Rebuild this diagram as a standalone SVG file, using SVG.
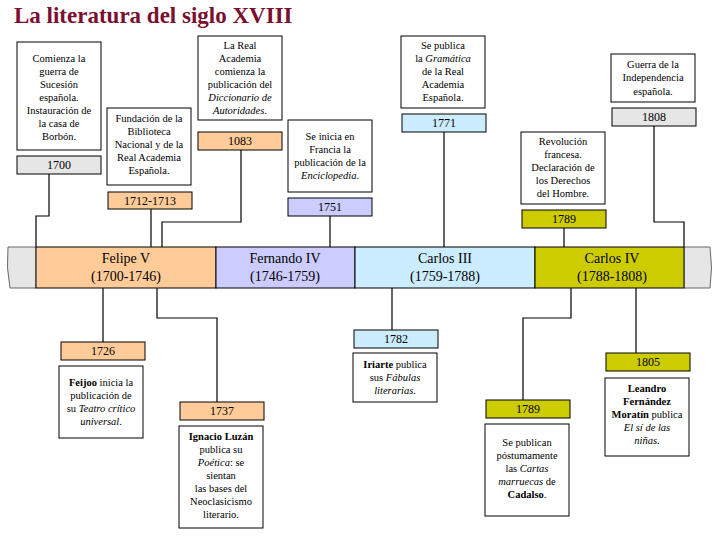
<svg xmlns="http://www.w3.org/2000/svg" width="720" height="540" viewBox="0 0 720 540">
<style>
text{font-family:"Liberation Serif","Times New Roman",serif;fill:#000}
.t{font-size:10.5px;text-anchor:middle}
.d{font-size:12px;text-anchor:middle}
.r{font-size:14px;text-anchor:middle}
.box{fill:#fff;stroke:#000;stroke-width:1}
.lb{stroke:#000;stroke-width:1}
.c{fill:none;stroke:#000;stroke-width:1.2}
</style>
<rect width="720" height="540" fill="#fff"/>
<text x="14" y="23" style="font-size:23px;font-weight:bold;fill:#7a1030">La literatura del siglo XVIII</text>

<g id="connectors">
<path class="c" d="M49,174V216H36V247"/>
<path class="c" d="M151,209V247"/>
<path class="c" d="M241,150V222H162V247"/>
<path class="c" d="M330,216V247"/>
<path class="c" d="M444,132V247"/>
<path class="c" d="M564,228V247"/>
<path class="c" d="M654,126V222H684V247"/>
<path class="c" d="M103,288V342"/>
<path class="c" d="M157,288V318H217V402"/>
<path class="c" d="M392,288V330"/>
<path class="c" d="M571,288V318H523V400"/>
<path class="c" d="M636,288V353"/>
</g>

<g id="timeline">
<path d="M8,247H36V288H10Q6,268 8,247Z" fill="#e6e6e6" stroke="#666"/>
<path d="M684,247H710Q713,268 710,288H684Z" fill="#e6e6e6" stroke="#666"/>
<rect x="36" y="247" width="180" height="41" fill="#ffcc99" stroke="#000"/>
<rect x="216" y="247" width="139" height="41" fill="#ccccff" stroke="#000"/>
<rect x="355" y="247" width="180" height="41" fill="#ccecff" stroke="#000"/>
<rect x="535" y="247" width="149" height="41" fill="#cccc00" stroke="#000"/>
<text class="r" x="126" y="263">Felipe V</text><text class="r" x="126" y="281">(1700-1746)</text>
<text class="r" x="285" y="263">Fernando IV</text><text class="r" x="285" y="281">(1746-1759)</text>
<text class="r" x="445" y="263">Carlos III</text><text class="r" x="445" y="281">(1759-1788)</text>
<text class="r" x="612" y="263">Carlos IV</text><text class="r" x="612" y="281">(1788-1808)</text>
</g>

<g id="n1700">
<rect class="box" x="17" y="42" width="84" height="108"/>
<text class="t" x="59"><tspan x="59" y="62">Comienza la</tspan><tspan x="59" y="75">guerra de</tspan><tspan x="59" y="88">Sucesión</tspan><tspan x="59" y="101">española.</tspan><tspan x="59" y="114">Instauración de</tspan><tspan x="59" y="127">la casa de</tspan><tspan x="59" y="140">Borbón.</tspan></text>
<rect class="lb" x="17" y="156" width="84" height="18" fill="#e6e6e6"/>
<text class="d" x="59" y="169">1700</text>
</g>

<g id="n1712">
<rect class="box" x="107" y="108" width="84" height="77"/>
<text class="t"><tspan x="149" y="122">Fundación de la</tspan><tspan x="149" y="135">Biblioteca</tspan><tspan x="149" y="148">Nacional y de la</tspan><tspan x="149" y="161">Real Academia</tspan><tspan x="149" y="174">Española.</tspan></text>
<rect class="lb" x="108" y="192" width="84" height="17" fill="#ffcc99"/>
<text class="d" x="150" y="205">1712-1713</text>
</g>

<g id="n1083">
<rect class="box" x="198" y="36" width="84" height="84"/>
<text class="t"><tspan x="240" y="49">La Real</tspan><tspan x="240" y="62">Academia</tspan><tspan x="240" y="75">comienza la</tspan><tspan x="240" y="88">publicación del</tspan><tspan x="240" y="101" font-style="italic">Diccionario de</tspan><tspan x="240" y="114"><tspan font-style="italic">Autoridades</tspan>.</tspan></text>
<rect class="lb" x="198" y="132" width="84" height="18" fill="#ffcc99"/>
<text class="d" x="240" y="145">1083</text>
</g>

<g id="n1751">
<rect class="box" x="288" y="120" width="84" height="72"/>
<text class="t"><tspan x="330" y="140">Se inicia en</tspan><tspan x="330" y="153">Francia la</tspan><tspan x="330" y="166">publicación de la</tspan><tspan x="330" y="179"><tspan font-style="italic">Enciclopedia</tspan>.</tspan></text>
<rect class="lb" x="288" y="198" width="84" height="18" fill="#ccccff"/>
<text class="d" x="330" y="211">1751</text>
</g>

<g id="n1771">
<rect class="box" x="401" y="36" width="84" height="72"/>
<text class="t"><tspan x="443" y="49">Se publica</tspan><tspan x="443" y="62">la <tspan font-style="italic">Gramática</tspan></tspan><tspan x="443" y="75">de la Real</tspan><tspan x="443" y="88">Academia</tspan><tspan x="443" y="101">Española.</tspan></text>
<rect class="lb" x="402" y="114" width="84" height="18" fill="#ccecff"/>
<text class="d" x="444" y="127">1771</text>
</g>

<g id="n1789a">
<rect class="box" x="521" y="132" width="84" height="72"/>
<text class="t"><tspan x="563" y="145">Revolución</tspan><tspan x="563" y="158">francesa.</tspan><tspan x="563" y="171">Declaración de</tspan><tspan x="563" y="184">los Derechos</tspan><tspan x="563" y="197">del Hombre.</tspan></text>
<rect class="lb" x="522" y="210" width="84" height="18" fill="#cccc00"/>
<text class="d" x="564" y="223">1789</text>
</g>

<g id="n1808">
<rect class="box" x="611" y="54" width="84" height="48"/>
<text class="t"><tspan x="653" y="68">Guerra de la</tspan><tspan x="653" y="81">Independencia</tspan><tspan x="653" y="95">española.</tspan></text>
<rect class="lb" x="612" y="108" width="84" height="18" fill="#e6e6e6"/>
<text class="d" x="654" y="121">1808</text>
</g>

<g id="n1726">
<rect class="lb" x="61" y="342" width="84" height="18" fill="#ffcc99"/>
<text class="d" x="103" y="355">1726</text>
<rect class="box" x="59" y="366" width="84" height="72"/>
<text class="t"><tspan x="101" y="386"><tspan font-weight="bold">Feijoo</tspan> inicia la</tspan><tspan x="101" y="399">publicación de</tspan><tspan x="101" y="412">su <tspan font-style="italic">Teatro crítico</tspan></tspan><tspan x="101" y="425"><tspan font-style="italic">universal</tspan>.</tspan></text>
</g>

<g id="n1737">
<rect class="lb" x="180" y="402" width="84" height="18" fill="#ffcc99"/>
<text class="d" x="222" y="415">1737</text>
<rect class="box" x="179" y="426" width="84" height="102"/>
<text class="t"><tspan x="221" y="440" font-weight="bold">Ignacio Luzán</tspan><tspan x="221" y="453">publica su</tspan><tspan x="221" y="466"><tspan font-style="italic">Poética</tspan>: se</tspan><tspan x="221" y="479">sientan</tspan><tspan x="221" y="492">las bases del</tspan><tspan x="221" y="505">Neoclasicismo</tspan><tspan x="221" y="518">literario.</tspan></text>
</g>

<g id="n1782">
<rect class="lb" x="354" y="330" width="84" height="18" fill="#ccecff"/>
<text class="d" x="396" y="343">1782</text>
<rect class="box" x="353" y="353" width="84" height="49"/>
<text class="t"><tspan x="395" y="368"><tspan font-weight="bold">Iriarte</tspan> publica</tspan><tspan x="395" y="381">sus <tspan font-style="italic">Fábulas</tspan></tspan><tspan x="395" y="394"><tspan font-style="italic">literarias</tspan>.</tspan></text>
</g>

<g id="n1789b">
<rect class="lb" x="486" y="400" width="84" height="18" fill="#cccc00"/>
<text class="d" x="528" y="413">1789</text>
<rect class="box" x="485" y="424" width="84" height="92"/>
<text class="t"><tspan x="527" y="446">Se publican</tspan><tspan x="527" y="459">póstumamente</tspan><tspan x="527" y="472">las <tspan font-style="italic">Cartas</tspan></tspan><tspan x="527" y="485"><tspan font-style="italic">marruecas</tspan> de</tspan><tspan x="527" y="498" font-weight="bold">Cadalso<tspan font-weight="normal">.</tspan></tspan></text>
</g>

<g id="n1805">
<rect class="lb" x="606" y="353" width="84" height="18" fill="#cccc00"/>
<text class="d" x="648" y="366">1805</text>
<rect class="box" x="605" y="378" width="84" height="78"/>
<text class="t"><tspan x="647" y="392" font-weight="bold">Leandro</tspan><tspan x="647" y="405" font-weight="bold">Fernández</tspan><tspan x="647" y="418"><tspan font-weight="bold">Moratín</tspan> publica</tspan><tspan x="647" y="431" font-style="italic">El sí de las</tspan><tspan x="647" y="444"><tspan font-style="italic">niñas</tspan>.</tspan></text>
</g>
</svg>
